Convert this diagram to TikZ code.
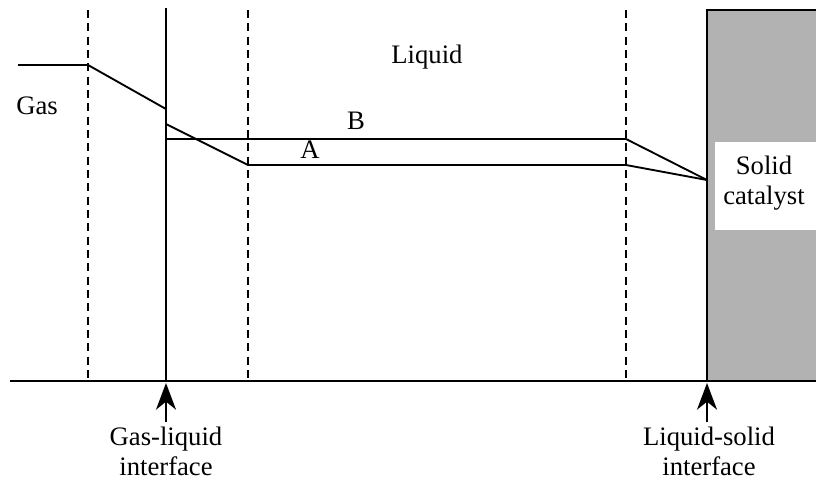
\documentclass[tikz,border=0pt]{standalone}
\usepackage{fontspec}
\setmainfont{Liberation Serif}
\usetikzlibrary{arrows.meta}
\begin{document}
\begin{tikzpicture}[x=0.75pt,y=-0.75pt,
  line/.style={line width=1.4pt},
  dashline/.style={line width=1.4pt, dash pattern=on 6pt off 4pt},
  lbl/.style={font=\fontsize{20}{20}\selectfont, align=center, inner sep=0pt},
  uparrow/.style={line width=1.4pt, -{Stealth[length=20pt,width=15pt,inset=6pt]}},
]
\useasboundingbox (0,0) rectangle (816,480);
% solid catalyst
\fill[black!30] (707,10) rectangle (816,381);
\fill[white] (715,142) rectangle (816,230);
\draw[line width=2.2pt] (816,10) -- (707,10) -- (707,381);
% boundaries
\draw[dashline] (88,10) -- (88,381);
\draw[line] (166,8) -- (166,381);
\draw[dashline] (248,10) -- (248,381);
\draw[dashline] (626,10) -- (626,381);
\draw[line] (10,381) -- (816,381);
% coordinates
\coordinate (g0) at (18,65);
\coordinate (g1) at (88,65);
\coordinate (g2) at (166,109);
\coordinate (a0) at (166,124);
\coordinate (a1) at (248,165);
\coordinate (a2) at (626,165);
\coordinate (b0) at (166,139);
\coordinate (b1) at (626,139);
\coordinate (s0) at (707,180);
\coordinate (gli) at (166,383);
\coordinate (lsi) at (707,383);
% profiles
\draw[line] (g0) -- (g1) -- (g2);
\draw[line] (a0) -- (a1) -- (a2) -- (s0);
\draw[line] (b0) -- (b1) -- (s0);
% labels
\node[lbl] (liquid) at (427,57) {Liquid};
\node[lbl] (gas) at (37,106) {Gas};
\node[lbl] (B) at (356,121) {B};
\node[lbl] (A) at (310,150) {A};
\node[lbl] (solid) at (764,183) {Solid\\[3pt]catalyst};
\node[lbl, anchor=north] (glt) at (166,427) {Gas-liquid\\[2pt]interface};
\node[lbl, anchor=north] (lst) at (709,427) {Liquid-solid\\[2pt]interface};
\draw[uparrow] (166,422) -- (gli);
\draw[uparrow] (707,422) -- (lsi);
\end{tikzpicture}
\end{document}
